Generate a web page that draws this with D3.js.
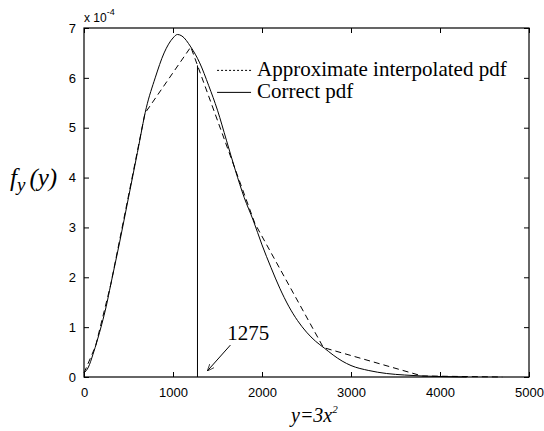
<!DOCTYPE html>
<html>
<head>
<meta charset="utf-8">
<script src="https://cdn.jsdelivr.net/npm/d3@7"></script>
<style>
  body { margin: 0; background: #fff; }
  svg { display: block; }
</style>
</head>
<body>
<svg id="chart" width="544" height="431"></svg>
<script>
// values in units of 1e-4
const yGrid = [0, 50, 100, 150, 200, 250, 300, 400, 500, 600, 700, 800, 900, 1000, 1050, 1100, 1200,
  1300, 1400, 1500, 1600, 1700, 1800, 1900, 2000, 2100, 2200, 2300, 2400, 2500, 2600, 2700, 2800,
  2900, 3000, 3200, 3400, 3600, 3800, 4000, 4300];
const correctPdf = [0.08, 0.2, 0.45, 0.74, 1.06, 1.42, 1.85, 2.7, 3.6, 4.5, 5.4, 6.0, 6.5, 6.8, 6.87, 6.84, 6.62,
  6.3, 5.85, 5.35, 4.75, 4.15, 3.6, 3.15, 2.65, 2.2, 1.78, 1.42, 1.13, 0.9, 0.72, 0.58, 0.44,
  0.32, 0.23, 0.13, 0.07, 0.04, 0.02, 0.01, 0.0];

const nodeY = [0, 130, 300, 685, 1200, 1920, 2690, 3800, 4700];
const approxPdf = [0.08, 0.62, 1.85, 5.29, 6.62, 3.08, 0.59, 0.02, 0.0];

const markY = 1275;
const markTop = 6.25;

const xTicks = [0, 1000, 2000, 3000, 4000, 5000];
const yTicks = [0, 1, 2, 3, 4, 5, 6, 7];
const legendLabels = ["Approximate interpolated pdf", "Correct pdf"];

const margin = { left: 84, right: 15, top: 28, bottom: 54 };
const width = 544 - margin.left - margin.right;
const height = 431 - margin.top - margin.bottom;

const svg = d3.select("#chart");
const g = svg.append("g").attr("transform", `translate(${margin.left},${margin.top})`);

const x = d3.scaleLinear().domain([0, 5000]).range([0, width]);
const y = d3.scaleLinear().domain([0, 7]).range([height, 0]);

// frame with inward ticks, matlab style
g.append("rect").attr("width", width).attr("height", height)
  .attr("fill", "none").attr("stroke", "#000").attr("stroke-width", 1.2);

const tickFont = "'Liberation Sans', Arial, sans-serif";
const serif = "'Liberation Serif', 'Times New Roman', serif";

g.append("g").attr("transform", `translate(0,${height})`)
  .call(d3.axisBottom(x).tickValues(xTicks).tickFormat(d3.format("d"))
    .tickSizeInner(-5).tickSizeOuter(0).tickPadding(11));
g.append("g")
  .call(d3.axisLeft(y).tickValues(yTicks).tickFormat(d3.format("d"))
    .tickSizeInner(-5).tickSizeOuter(0).tickPadding(8));
g.append("g")
  .call(d3.axisTop(x).tickValues(xTicks).tickSizeInner(-5).tickSizeOuter(0).tickFormat(""));
g.append("g").attr("transform", `translate(${width},0)`)
  .call(d3.axisRight(y).tickValues(yTicks).tickSizeInner(-5).tickSizeOuter(0).tickFormat(""));

g.selectAll(".domain").remove();
g.selectAll(".tick line").attr("stroke", "#000");
g.selectAll(".tick text").attr("fill", "#000")
  .style("font-family", tickFont).style("font-size", "13px");

// exponent label
g.append("text").attr("x", 0).attr("y", -6)
  .style("font-family", tickFont).style("font-size", "12px")
  .text("x 10")
  .append("tspan").attr("dy", -7).style("font-size", "9px").text("-4");

// correct pdf
g.append("path")
  .datum(d3.zip(yGrid, correctPdf))
  .attr("fill", "none").attr("stroke", "#000").attr("stroke-width", 1)
  .attr("d", d3.line().x(d => x(d[0])).y(d => y(d[1])).curve(d3.curveMonotoneX));

// interpolated pdf
g.append("path")
  .datum(d3.zip(nodeY, approxPdf))
  .attr("fill", "none").attr("stroke", "#000").attr("stroke-width", 1)
  .attr("stroke-dasharray", "6,4")
  .attr("d", d3.line().x(d => x(d[0])).y(d => y(d[1])));

// vertical marker at 1275
g.append("line")
  .attr("x1", x(markY)).attr("x2", x(markY))
  .attr("y1", y(0)).attr("y2", y(markTop))
  .attr("stroke", "#000").attr("stroke-width", 1);

// annotation with arrow
svg.append("defs").append("marker")
  .attr("id", "arrow").attr("viewBox", "0 0 10 10")
  .attr("refX", 10).attr("refY", 5)
  .attr("markerWidth", 7).attr("markerHeight", 7)
  .attr("orient", "auto")
  .append("path").attr("d", "M0,1 L10,5 L0,9").attr("fill", "none").attr("stroke", "#000");

g.append("line")
  .attr("x1", x(1645)).attr("y1", y(0.64))
  .attr("x2", x(1385)).attr("y2", y(0.12))
  .attr("stroke", "#000").attr("stroke-width", 1)
  .attr("marker-end", "url(#arrow)");

g.append("text")
  .attr("x", x(1610)).attr("y", y(0.75))
  .style("font-family", serif)
  .style("font-size", "21px")
  .text(String(markY));

// legend
const legend = g.append("g").attr("transform", `translate(${x(1495)},${y(6.15)})`);
legendLabels.forEach((label, i) => {
  const row = legend.append("g").attr("transform", `translate(0,${i * 22})`);
  row.append("line").attr("x1", 0).attr("x2", 34)
    .attr("stroke", "#000").attr("stroke-width", 1)
    .attr("stroke-dasharray", i === 0 ? "2,2" : null);
  row.append("text").attr("x", 40).attr("y", 6)
    .style("font-family", serif)
    .style("font-size", "21px")
    .text(label);
});

// axis titles
const yTitle = svg.append("text")
  .attr("x", 10).attr("y", 186)
  .style("font-family", serif)
  .style("font-size", "25px").style("font-style", "italic");
yTitle.append("tspan").text("f");
yTitle.append("tspan").attr("dy", 5).style("font-size", "19px").text("y");
yTitle.append("tspan").attr("dy", -5).attr("dx", 4).text("(y)");

const xTitle = svg.append("text")
  .attr("x", 291).attr("y", 422)
  .style("font-family", serif)
  .style("font-size", "20px").style("font-style", "italic");
xTitle.append("tspan").text("y=3x");
xTitle.append("tspan").attr("dy", -9).style("font-size", "11px").text("2");
</script>
</body>
</html>
